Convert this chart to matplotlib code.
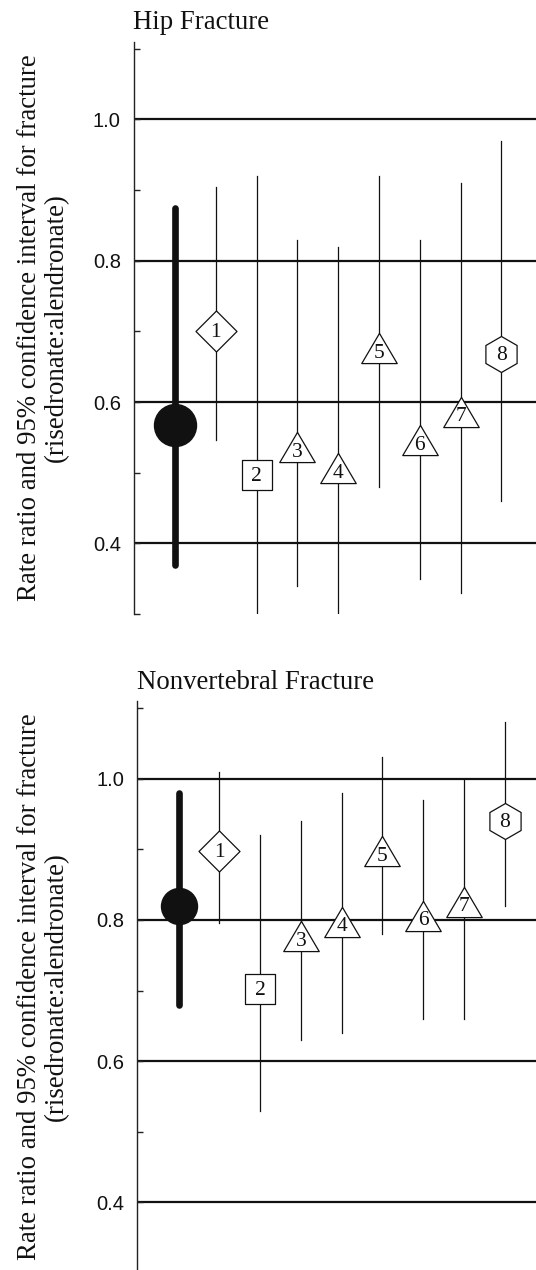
import matplotlib
matplotlib.use("Agg")
import matplotlib.pyplot as plt
from matplotlib.path import Path
from matplotlib.ticker import FixedLocator, FormatStrFormatter

# ---------------- data ----------------
study_labels = ["1", "2", "3", "4", "5", "6", "7", "8"]
study_shapes = ["diamond", "square", "triangle", "triangle",
                "triangle", "triangle", "triangle", "hexagon"]

panel_titles = ["Hip Fracture", "Nonvertebral Fracture"]

hip_pooled = 0.567
hip_pooled_lo = 0.37
hip_pooled_hi = 0.875
hip_rr = [0.700, 0.497, 0.536, 0.506, 0.676, 0.546, 0.586, 0.668]
hip_lo = [0.546, 0.300, 0.340, 0.300, 0.480, 0.350, 0.330, 0.460]
hip_hi = [0.905, 0.920, 0.830, 0.820, 0.920, 0.830, 0.910, 0.970]

nv_pooled = 0.820
nv_pooled_lo = 0.68
nv_pooled_hi = 0.98
nv_rr = [0.897, 0.702, 0.777, 0.797, 0.897, 0.806, 0.826, 0.940]
nv_lo = [0.795, 0.530, 0.630, 0.640, 0.780, 0.660, 0.660, 0.820]
nv_hi = [1.010, 0.920, 0.940, 0.980, 1.030, 0.970, 1.000, 1.080]

major_ticks = [0.4, 0.6, 0.8, 1.0]
minor_ticks = [0.3, 0.5, 0.7, 0.9, 1.1]
ylabel_text = "Rate ratio and 95% confidence interval for fracture\n(risedronate:alendronate)"

# ---------------- style ----------------
W, H = 536, 1270
SERIF = ["Liberation Serif", "DejaVu Serif"]
SANS = ["Liberation Sans", "DejaVu Sans"]

def px2pt(p):
    return p * 72.0 / 100.0

tri_path = Path([(0, 0.85), (-1, -0.85), (1, -0.85), (0, 0.85)], closed=True)
sq_path = Path([(-1, -1), (1, -1), (1, 1), (-1, 1), (-1, -1)], closed=True)
dia_path = Path([(0, 1), (1, 0), (0, -1), (-1, 0), (0, 1)], closed=True)

marker_style = {
    "diamond": dict(marker=dia_path, ms=px2pt(41), dy=-1.0),
    "square": dict(marker=sq_path, ms=px2pt(30.5), dy=-1.0),
    "triangle": dict(marker=tri_path, ms=px2pt(35.5), dy=-3.5),
    "hexagon": dict(marker="h", ms=px2pt(36), dy=-1.0),
}

fig = plt.figure(figsize=(W / 100, H / 100), dpi=100)

# axes geometry in pixels: left spine x, top y, bottom y, pooled x, unit px
panels = [
    dict(left=134, top=41.7, bottom=614, x0=175.2, unit=40.76,
         pooled=hip_pooled, plo=hip_pooled_lo, phi=hip_pooled_hi,
         rr=hip_rr, lo=hip_lo, hi=hip_hi, pooled_ms=px2pt(42),
         title=panel_titles[0], title_x=132.6, title_base=29.3),
    dict(left=137.3, top=701, bottom=1273, x0=178.5, unit=40.77,
         pooled=nv_pooled, plo=nv_pooled_lo, phi=nv_pooled_hi,
         rr=nv_rr, lo=nv_lo, hi=nv_hi, pooled_ms=px2pt(36),
         title=panel_titles[1], title_x=137.3, title_base=689),
]

for p in panels:
    ax = fig.add_axes([p["left"] / W, 1 - p["bottom"] / H,
                       (W - p["left"]) / W, (p["bottom"] - p["top"]) / H])
    ax.set_ylim(0.30, 1.11)
    ax.set_xlim((p["left"] - p["x0"]) / p["unit"], (W - p["x0"]) / p["unit"])

    for s in ["top", "right", "bottom"]:
        ax.spines[s].set_visible(False)
    ax.spines["left"].set_color("#222222")
    ax.spines["left"].set_linewidth(1.0)
    ax.set_xticks([])

    ax.yaxis.set_major_locator(FixedLocator(major_ticks))
    ax.yaxis.set_minor_locator(FixedLocator(minor_ticks))
    ax.yaxis.set_major_formatter(FormatStrFormatter("%.1f"))
    ax.tick_params(axis="y", which="both", direction="in", length=4.5,
                   width=1.0, color="#222222", pad=9.5)
    for lab in ax.get_yticklabels():
        lab.set_fontfamily(SANS)
        lab.set_fontsize(14.5)
        lab.set_color("#111111")

    for g in major_ticks:
        ax.axhline(g, color="#111111", lw=1.6, zorder=1)

    # pooled estimate
    ax.plot([0, 0], [p["plo"], p["phi"]], color="#111111", lw=4.8,
            solid_capstyle="round", zorder=3)
    ax.plot([0], [p["pooled"]], marker="o", ms=p["pooled_ms"],
            color="#111111", mec="#111111", zorder=4)

    # individual studies
    for i, (lab, shape) in enumerate(zip(study_labels, study_shapes)):
        x = i + 1
        ax.plot([x, x], [p["lo"][i], p["hi"][i]], color="#111111",
                lw=0.9, zorder=2, clip_on=True)
        st = marker_style[shape]
        ax.plot([x], [p["rr"][i]], marker=st["marker"], ms=st["ms"],
                mfc="white", mec="#111111", mew=0.9, ls="none", zorder=5)
        ax.annotate(lab, (x, p["rr"][i]), xytext=(0, st["dy"]),
                    textcoords="offset points", ha="center", va="center",
                    fontsize=15.5, family=SERIF, color="#111111", zorder=6)

    fig.text(p["title_x"] / W, 1 - p["title_base"] / H, p["title"],
             ha="left", va="baseline", fontsize=19.3, family=SERIF,
             color="#111111")

    yc = (p["top"] + p["bottom"]) / 2
    fig.text(43 / W, 1 - yc / H, ylabel_text, rotation=90, ha="center",
             va="center", multialignment="center", fontsize=19.3,
             family=SERIF, color="#111111", linespacing=1.15)

fig.savefig("out.png", dpi=100)
